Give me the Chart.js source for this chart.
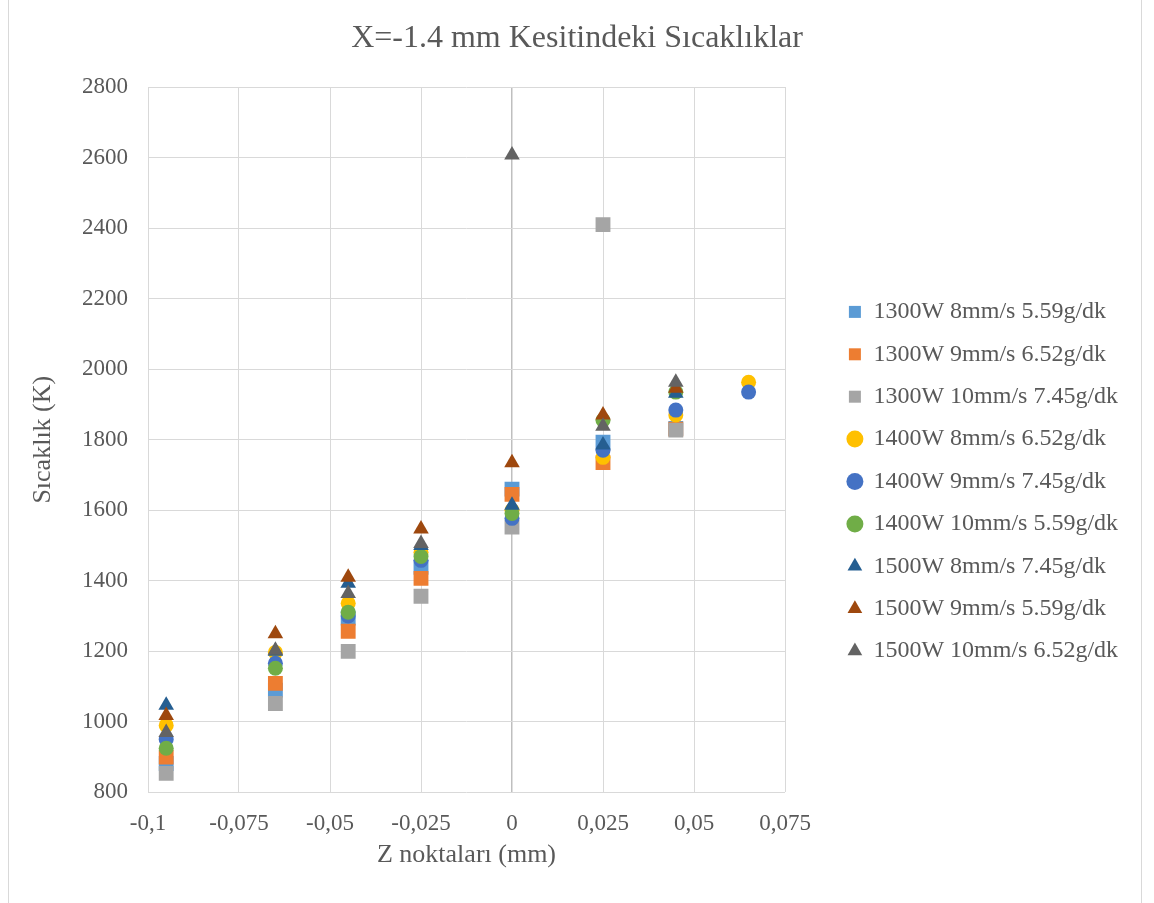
<!DOCTYPE html>
<html>
<head>
<meta charset="utf-8">
<script src="https://cdn.jsdelivr.net/npm/chart.js@4.4.0/dist/chart.umd.min.js"></script>
<style>
  body { margin: 0; background: #fff; }
  #frame { position: absolute; left: 8px; top: -2px; width: 1134px; height: 910px; border: 1px solid #d9d9d9; box-sizing: border-box; }
  #wrap { position: absolute; left: 0; top: 0; width: 1154px; height: 903px; }
</style>
</head>
<body>
<div id="frame"></div>
<div id="wrap"><canvas id="chart"></canvas></div>
<script>
// Z positions (mm)
const zPoints = [-0.095, -0.065, -0.045, -0.025, 0, 0.025, 0.045, 0.065];

const seriesNames = [
  '1300W 8mm/s 5.59g/dk',
  '1300W 9mm/s 6.52g/dk',
  '1300W 10mm/s 7.45g/dk',
  '1400W 8mm/s 6.52g/dk',
  '1400W 9mm/s 7.45g/dk',
  '1400W 10mm/s 5.59g/dk',
  '1500W 8mm/s 7.45g/dk',
  '1500W 9mm/s 5.59g/dk',
  '1500W 10mm/s 6.52g/dk'
];

// temperatures (K), null = no point
const t1300_8  = [882, 1090, 1294, 1438, 1660, 1793, 1832, null];
const t1300_9  = [900, 1109, 1257, 1407, 1645, 1735, 1830, null];
const t1300_10 = [854, 1052, 1200, 1356, 1552, 2410, 1827, null];
const t1400_8  = [990, 1197, 1336, 1481, 1600, 1750, 1870, 1963];
const t1400_9  = [950, 1166, 1300, 1458, 1577, 1770, 1884, 1935];
const t1400_10 = [925, 1152, 1311, 1469, 1591, 1855, 1935, null];
const t1500_8  = [1047, 1200, 1393, 1500, 1614, 1785, 1932, null];
const t1500_9  = [1018, 1250, 1410, 1547, 1735, 1870, 1946, null];
const t1500_10 = [970, 1203, 1364, 1506, 2607, 1838, 1963, null];

const allSeries = [t1300_8, t1300_9, t1300_10, t1400_8, t1400_9, t1400_10, t1500_8, t1500_9, t1500_10];
const colors = ['#5B9BD5', '#ED7D31', '#A5A5A5', '#FFC000', '#4472C4', '#70AD47', '#255E91', '#9E480E', '#636363'];
const shapes = ['rect', 'rect', 'rect', 'circle', 'circle', 'circle', 'triangle', 'triangle', 'triangle'];
const radii = { rect: 10.5, circle: 7.5, triangle: 9 };

const textColor = '#595959';
const fontFam = "'Liberation Serif', 'Times New Roman', serif";

const datasets = allSeries.map((vals, i) => ({
  label: seriesNames[i],
  data: zPoints.map((z, k) => vals[k] == null ? null : { x: z, y: vals[k] }).filter(p => p),
  backgroundColor: colors[i],
  borderColor: colors[i],
  borderWidth: 0,
  pointStyle: shapes[i],
  pointRadius: radii[shapes[i]],
  pointHoverRadius: radii[shapes[i]],
  order: allSeries.length - i  // later series on top, like excel
}));

const fmt = v => {
  if (Math.abs(v) < 1e-9) return '0';
  return String(+v.toFixed(3)).replace('.', ',');
};

// legend sits further right of the plot than chart.js puts it
const legendGap = 45;
const legendWidth = 369;
const legendDown = 42;
const legendShift = {
  id: 'legendShift',
  beforeInit(chart) {
    const origFit = chart.legend.fit;
    chart.legend.fit = function () {
      origFit.call(this);
      this.width = legendWidth;
    };
  },
  afterLayout(chart) {
    const lg = chart.legend;
    lg.left += legendGap;
    lg.right += legendGap;
    lg.top += legendDown;
    lg.bottom += legendDown;
  }
};

new Chart(document.getElementById('chart'), {
  type: 'scatter',
  data: { datasets },
  plugins: [legendShift],
  options: {
    responsive: true,
    maintainAspectRatio: false,
    animation: false,
    layout: { padding: { left: 0, right: 0, top: 8, bottom: 32 } },
    plugins: {
      title: {
        display: true,
        text: 'X=-1.4 mm Kesitindeki Sıcaklıklar',
        color: textColor,
        font: { family: fontFam, size: 32, weight: 'normal' },
        padding: { top: 11, bottom: 29.6 }
      },
      legend: {
        position: 'right',
        labels: {
          usePointStyle: true,
          boxWidth: 13,
          boxHeight: 12,
          padding: 18.4,
          color: textColor,
          font: { family: fontFam, size: 24 },
          sort: (a, b) => a.datasetIndex - b.datasetIndex
        }
      },
      tooltip: { enabled: false }
    },
    scales: {
      x: {
        type: 'linear',
        min: -0.1,
        max: 0.075,
        afterFit: s => { s.height = 78.6; },
        ticks: {
          stepSize: 0.025,
          color: textColor,
          font: { family: fontFam, size: 23 },
          padding: 18,
          callback: v => fmt(v)
        },
        grid: {
          color: c => (c.tick && Math.abs(c.tick.value) < 1e-9) ? '#bfbfbf' : '#d9d9d9',
          lineWidth: c => (c.tick && Math.abs(c.tick.value) < 1e-9) ? 1.5 : 1,
          drawTicks: false
        },
        border: { display: false },
        title: {
          display: true,
          text: 'Z noktaları (mm)',
          color: textColor,
          font: { family: fontFam, size: 26 },
          padding: { top: 0, bottom: 0 }
        }
      },
      y: {
        min: 800,
        max: 2800,
        afterFit: s => { s.width = 148; },
        ticks: {
          stepSize: 200,
          color: textColor,
          font: { family: fontFam, size: 23 },
          padding: 20,
          callback: v => String(v)
        },
        grid: { color: '#d9d9d9', drawTicks: false },
        border: { display: false },
        title: {
          display: true,
          text: 'Sıcaklık (K)',
          color: textColor,
          font: { family: fontFam, size: 26 },
          padding: { top: 28, bottom: 0 }
        }
      }
    }
  }
});
</script>
</body>
</html>
